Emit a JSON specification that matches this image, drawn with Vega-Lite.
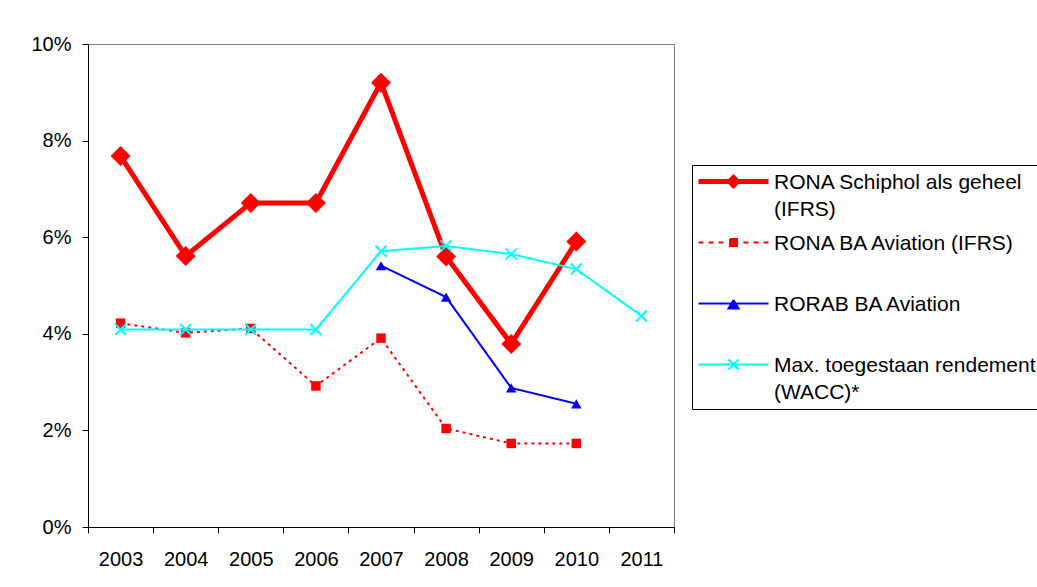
{
  "$schema": "https://vega.github.io/schema/vega-lite/v6.json",
  "width": 586,
  "height": 483,
  "autosize": {"type": "none"},
  "padding": {"left": 88, "top": 44, "right": 363, "bottom": 60},
  "background": "white",
  "config": {
    "view": {"stroke": "#808080", "strokeWidth": 1},
    "axis": {"labelFont": "Liberation Sans", "labelColor": "black", "labelFontSize": 20, "domainColor": "black", "tickColor": "black", "tickSize": 6, "grid": false, "title": null}
  },
  "data": {"values": [
    {"year": "2003", "series": "RONA Schiphol als geheel (IFRS)", "value": 0.0768},
    {"year": "2004", "series": "RONA Schiphol als geheel (IFRS)", "value": 0.0561},
    {"year": "2005", "series": "RONA Schiphol als geheel (IFRS)", "value": 0.0671},
    {"year": "2006", "series": "RONA Schiphol als geheel (IFRS)", "value": 0.0671},
    {"year": "2007", "series": "RONA Schiphol als geheel (IFRS)", "value": 0.0920},
    {"year": "2008", "series": "RONA Schiphol als geheel (IFRS)", "value": 0.0560},
    {"year": "2009", "series": "RONA Schiphol als geheel (IFRS)", "value": 0.0379},
    {"year": "2010", "series": "RONA Schiphol als geheel (IFRS)", "value": 0.0591},
    {"year": "2003", "series": "RONA BA Aviation (IFRS)", "value": 0.0422},
    {"year": "2004", "series": "RONA BA Aviation (IFRS)", "value": 0.0402},
    {"year": "2005", "series": "RONA BA Aviation (IFRS)", "value": 0.0411},
    {"year": "2006", "series": "RONA BA Aviation (IFRS)", "value": 0.0292},
    {"year": "2007", "series": "RONA BA Aviation (IFRS)", "value": 0.0391},
    {"year": "2008", "series": "RONA BA Aviation (IFRS)", "value": 0.0204},
    {"year": "2009", "series": "RONA BA Aviation (IFRS)", "value": 0.0173},
    {"year": "2010", "series": "RONA BA Aviation (IFRS)", "value": 0.0173},
    {"year": "2007", "series": "RORAB BA Aviation", "value": 0.0541},
    {"year": "2008", "series": "RORAB BA Aviation", "value": 0.0476},
    {"year": "2009", "series": "RORAB BA Aviation", "value": 0.0288},
    {"year": "2010", "series": "RORAB BA Aviation", "value": 0.0255},
    {"year": "2003", "series": "Max. toegestaan rendement (WACC)*", "value": 0.0409},
    {"year": "2004", "series": "Max. toegestaan rendement (WACC)*", "value": 0.0409},
    {"year": "2005", "series": "Max. toegestaan rendement (WACC)*", "value": 0.0409},
    {"year": "2006", "series": "Max. toegestaan rendement (WACC)*", "value": 0.0409},
    {"year": "2007", "series": "Max. toegestaan rendement (WACC)*", "value": 0.0571},
    {"year": "2008", "series": "Max. toegestaan rendement (WACC)*", "value": 0.0582},
    {"year": "2009", "series": "Max. toegestaan rendement (WACC)*", "value": 0.0565},
    {"year": "2010", "series": "Max. toegestaan rendement (WACC)*", "value": 0.0534},
    {"year": "2011", "series": "Max. toegestaan rendement (WACC)*", "value": 0.0437}
  ]},
  "encoding": {
    "x": {"field": "year", "type": "ordinal",
      "scale": {"type": "band", "paddingInner": 0, "paddingOuter": 0, "domain": ["2003","2004","2005","2006","2007","2008","2009","2010","2011"]},
      "axis": {"labelAngle": 0, "tickBand": "extent", "labelPadding": 16}},
    "y": {"field": "value", "type": "quantitative",
      "scale": {"domain": [0, 0.1], "nice": false, "zero": true},
      "axis": {"values": [0, 0.02, 0.04, 0.06, 0.08, 0.1], "format": ".0%", "labelPadding": 11, "domain": true}}
  },
  "layer": [
    {
      "transform": [{"filter": "datum.series === 'RONA Schiphol als geheel (IFRS)'"}],
      "mark": {"type": "line", "strokeWidth": 5},
      "encoding": {
        "color": {"field": "series", "type": "nominal",
          "scale": {"domain": ["RONA Schiphol als geheel (IFRS)", "RONA BA Aviation (IFRS)", "RORAB BA Aviation", "Max. toegestaan rendement (WACC)*"], "range": ["#FF0000", "#FF0000", "#0000FF", "#00FFFF"]},
          "legend": {
            "orient": "none", "legendX": 604, "legendY": 121, "title": null,
            "strokeColor": "black", "fillColor": "white", "padding": 6, "rowPadding": 12,
            "labelFont": "Liberation Sans", "labelFontSize": 21, "labelColor": "black", "labelLimit": 600,
            "labelOffset": 55, "symbolSize": 400, "labelBaseline": "alphabetic",
            "labelExpr": "datum.value === 'RONA Schiphol als geheel (IFRS)' ? ['RONA Schiphol als geheel', '(IFRS)'] : datum.value === 'Max. toegestaan rendement (WACC)*' ? ['Max. toegestaan rendement', '(WACC)*'] : [datum.value, '']",
            "encode": {
              "labels": {"update": {"dy": {"value": 7}, "lineHeight": {"value": 27}}},
              "symbols": {"update": {
                "shape": {"signal": "datum.value === 'RONA Schiphol als geheel (IFRS)' ? 'M-1,0H6M2.1,0L2.5,-0.4L2.9,0L2.5,0.4Z' : datum.value === 'RONA BA Aviation (IFRS)' ? 'M-1,0H-0.5M0,0H0.5M1,0H1.5M2.15,-0.35H2.85V0.35H2.15ZM3.5,0H4M4.5,0H5M5.5,0H6' : datum.value === 'RORAB BA Aviation' ? 'M-1,0H6M2.5,-0.35L3.0,0.5H2.0Z' : 'M-1,0H6M2,-0.5L3,0.5M2,0.5L3,-0.5'"},
                "fill": {"scale": "color", "field": "value"},
                "stroke": {"scale": "color", "field": "value"},
                "strokeWidth": {"signal": "datum.value === 'RONA Schiphol als geheel (IFRS)' ? 5 : 2"},
                "strokeDash": {"value": [1000, 0]},
                "opacity": {"value": 1}
              }}
            }
          }
        }
      }
    },
    {
      "transform": [{"filter": "datum.series === 'RONA Schiphol als geheel (IFRS)'"}],
      "mark": {"type": "point", "shape": "diamond", "size": 400, "filled": true, "color": "#FF0000", "opacity": 1}
    },
    {
      "transform": [{"filter": "datum.series === 'RONA BA Aviation (IFRS)'"}],
      "mark": {"type": "line", "strokeWidth": 2, "strokeDash": [3, 4]},
      "encoding": {"color": {"field": "series", "type": "nominal"}}
    },
    {
      "transform": [{"filter": "datum.series === 'RONA BA Aviation (IFRS)'"}],
      "mark": {"type": "point", "shape": "square", "size": 90, "filled": true, "color": "#FF0000", "opacity": 1}
    },
    {
      "transform": [{"filter": "datum.series === 'RORAB BA Aviation'"}],
      "mark": {"type": "line", "strokeWidth": 2},
      "encoding": {"color": {"field": "series", "type": "nominal"}}
    },
    {
      "transform": [{"filter": "datum.series === 'RORAB BA Aviation'"}],
      "mark": {"type": "point", "shape": "triangle-up", "size": 110, "filled": true, "color": "#0000FF", "opacity": 1}
    },
    {
      "transform": [{"filter": "datum.series === 'Max. toegestaan rendement (WACC)*'"}],
      "mark": {"type": "line", "strokeWidth": 2},
      "encoding": {"color": {"field": "series", "type": "nominal"}}
    },
    {
      "transform": [{"filter": "datum.series === 'Max. toegestaan rendement (WACC)*'"}],
      "mark": {"type": "point", "shape": "M-1,-1L1,1M-1,1L1,-1", "size": 121, "filled": false, "stroke": "#00FFFF", "strokeWidth": 2, "opacity": 1}
    }
  ]
}
